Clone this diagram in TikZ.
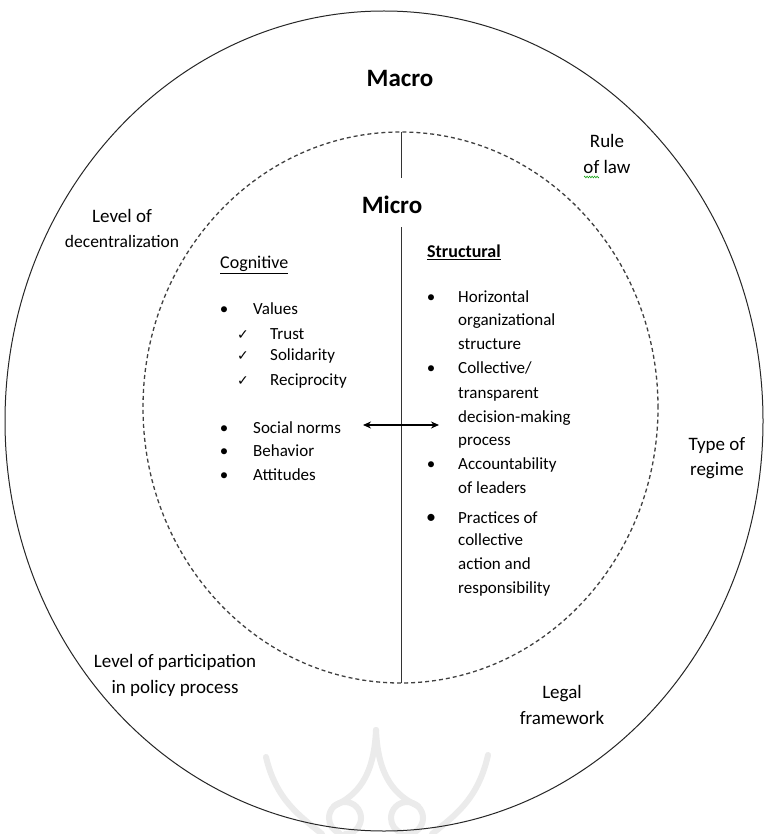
\documentclass[tikz,border=0pt]{standalone}
\usepackage{fontspec}
\setmainfont{Carlito}
\newfontfamily\symfont{DejaVu Sans}
\usetikzlibrary{arrows.meta,decorations.pathmorphing}
\begin{document}
\begin{tikzpicture}[x=1pt,y=-1pt,
  outerlab/.style={font=\fontsize{19}{25.5}\selectfont, align=center, inner sep=0pt},
  item/.style={font=\fontsize{17}{23.5}\selectfont, anchor=west, inner sep=0pt, text height=0.7em, text depth=0.2em},
  bul/.style={font=\fontsize{17}{23.5}\selectfont, anchor=center, inner sep=0pt, text height=0.7em, text depth=0.2em},
  chk/.style={font=\symfont\fontsize{14}{16}\selectfont, anchor=center, inner sep=0pt, yshift=2pt},
  title/.style={font=\fontsize{25}{30}\selectfont\bfseries, inner sep=0pt},
  head/.style={font=\fontsize{18}{22}\selectfont, anchor=base west, inner sep=0pt},
  wm/.style={gray!16, line width=6pt, line cap=round},
]
\useasboundingbox (0,0) rectangle (765,834);
\fill[white] (0,0) rectangle (765,834);

% faint watermark
\draw[wm] (376,730) .. controls (374,778) and (356,796) .. (334,806);
\draw[wm] (376,730) .. controls (378,778) and (396,796) .. (418,806);
\draw[wm] (345,834) arc[start angle=-90, end angle=250, radius=16pt];
\draw[wm] (407,834) arc[start angle=-90, end angle=250, radius=16pt];
\draw[wm] (266,757) .. controls (276,800) and (300,816) .. (322,834);
\draw[wm] (488,755) .. controls (478,800) and (454,816) .. (432,834);

% circles
\draw[line width=1pt, black!85] (384,421) ellipse [x radius=379pt, y radius=410pt];
\draw[line width=1.3pt, black!75, dash pattern=on 4pt off 3pt] (400.5,407.5) ellipse [x radius=257.5pt, y radius=275.5pt];

% titles
\node[title] (macro) at (400,78) {Macro};
\node[title] (micro) at (392,205) {Micro};

% vertical divider
\coordinate (vt) at (401,132);
\coordinate (ma) at (401,178);
\coordinate (mb) at (401,227);
\coordinate (vb) at (401,683);
\draw[line width=0.9pt, black!80] (vt) -- (ma);
\draw[line width=0.9pt, black!80] (mb) -- (vb);

% double arrow
\coordinate (al) at (363,425);
\coordinate (ar) at (439,425);
\draw[{Stealth[length=8pt,width=7pt]}-{Stealth[length=8pt,width=7pt]}, line width=2.2pt] (al) -- (ar);

% outer labels
\node[outerlab] (rule) at (607,154) {Rule\\of law};
\draw[green!60!black, line width=0.5pt, decorate, decoration={zigzag, amplitude=0.9pt, segment length=2.5pt}] (584,177) -- (599,177);
\node[outerlab] (decen) at (122,228.5) {Level of\\{\fontsize{17.5}{25.5}\selectfont decentralization}};
\node[outerlab] (regime) at (717,458) {Type of\\regime};
\node[outerlab] (partic) at (175,675.5) {Level of participation\\in policy process};
\node[outerlab] (legal) at (562,705) {Legal\\framework};

% headings
\node[head] (cog) at (220,268.5) {\underline{Cognitive}};
\node[head] (struc) at (427,257.5) {\underline{\bfseries Structural}};

% cognitive list
\foreach \t/\y [count=\i] in {Values/312, Social norms/431, Behavior/454, Attitudes/478}{
  \node[bul] (cb\i) at (224,\y) {\textbullet};
  \node[item] (ct\i) at (253,\y) {\t};
}
\foreach \t/\y [count=\i] in {Trust/337, Solidarity/358, Reciprocity/383}{
  \node[chk] (ck\i) at (243,\y) {✓};
  \node[item] (cv\i) at (270,\y) {\t};
}

% structural list
\foreach \y [count=\i] in {300, 371, 467}{
  \node[bul] (sb\i) at (431,\y) {\textbullet};
}
\node[bul, font=\fontsize{20}{23.5}\selectfont] (sb4) at (431,521) {\textbullet};
\foreach \t/\y [count=\i] in {Horizontal/300, organizational/323, structure/347, {Collective/}/371, transparent/396, decision-making/420, process/443, Accountability/467, of leaders/491, Practices of/521, collective/543, action and/567, responsibility/591}{
  \node[item] (st\i) at (458,\y) {\t};
}
\end{tikzpicture}
\end{document}
